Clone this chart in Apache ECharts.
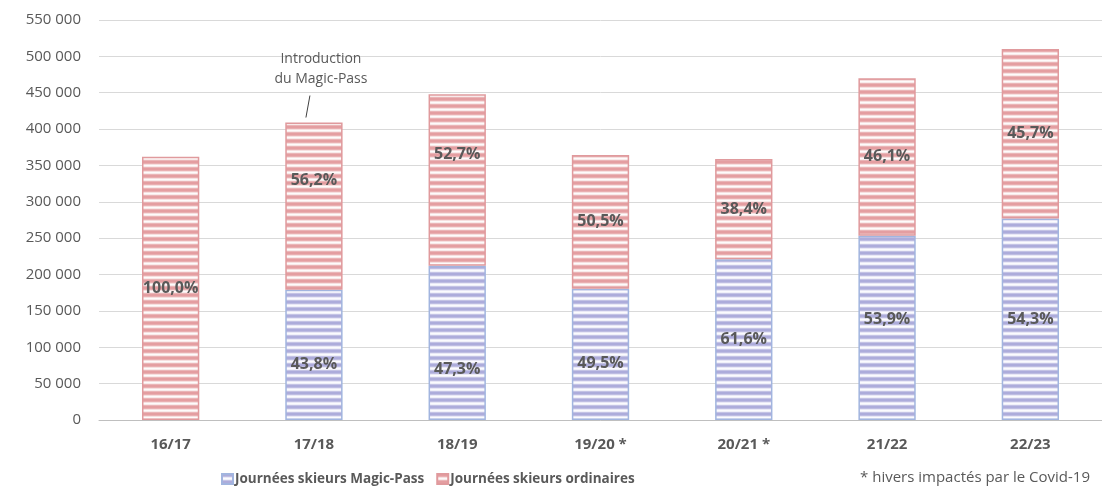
<!DOCTYPE html>
<html lang="fr">
<head>
    <meta charset="UTF-8">
    <title>Journées skieurs</title>
    <script src="https://cdn.jsdelivr.net/npm/echarts@6/dist/echarts.min.js"></script>
    <style>
        html, body { margin: 0; padding: 0; background: #fff; }
        #chart { width: 1102px; height: 489px; }
    </style>
</head>
<body>
<div id="chart"></div>
<script>
    // données
    var saisons = ['16/17', '17/18', '18/19', '19/20 *', '20/21 *', '21/22', '22/23'];
    var magicPass = [0, 179000, 212000, 180500, 221000, 253500, 277000];
    var ordinaires = [362000, 230000, 236000, 184000, 138000, 216500, 233000];
    var pctMagic = [null, '43,8%', '47,3%', '49,5%', '61,6%', '53,9%', '54,3%'];
    var pctOrdinaires = ['100,0%', '56,2%', '52,7%', '50,5%', '38,4%', '46,1%', '45,7%'];

    // décalage manuel de quelques étiquettes (comme dans le graphique d'origine)
    var nudgeMagic = { 1: 10, 2: 27, 3: 9, 5: -8 };
    var nudgeOrd = { 1: -26, 2: -26 };

    var grey = '#595959';
    var font = '"Open Sans", "Noto Sans", sans-serif';

    // motif de rayures horizontales
    function stripes(rows) {
        var cv = document.createElement('canvas');
        cv.width = 4;
        cv.height = rows.length;
        var ctx = cv.getContext('2d');
        rows.forEach(function (c, i) {
            ctx.fillStyle = c;
            ctx.fillRect(0, i, 4, 1);
        });
        return cv;
    }
    var redPattern = stripes(['#e49ea1', '#e49ea1', '#e9afb1', '#f6e0e0', '#fefbfb', '#f8eaea', '#eab5b7']);
    var bluePattern = stripes(['#adacdb', '#adacdb', '#bebde2', '#e9e8f6', '#fbfbfe', '#f0f0f9', '#c4c3e5']);

    function fmt(v) {
        return String(v).replace(/\B(?=(\d{3})+(?!\d))/g, ' ');
    }

    // 0 -> pas de segment dessiné
    function items(values, nudge) {
        return values.map(function (v, i) {
            var it = { value: v === 0 ? '-' : v };
            if (nudge[i]) it.label = { offset: [0, nudge[i]] };
            return it;
        });
    }

    var labelStyle = {
        show: true,
        position: 'inside',
        color: grey,
        fontFamily: font,
        fontWeight: 'bold',
        fontSize: 16
    };

    var myChart = echarts.init(document.getElementById('chart'));
    myChart.setOption({
        animation: false,
        textStyle: { fontFamily: font },
        grid: { left: 99, right: -10, top: 20, bottom: 69, containLabel: false },
        legend: {
            left: 216,
            top: 467,
            icon: 'rect',
            itemWidth: 11,
            itemHeight: 10,
            itemGap: 12,
            textStyle: { color: grey, fontSize: 13.5, fontWeight: 'bold', fontFamily: font, padding: [0, 0, 0, -3] },
            data: ['Journées skieurs Magic-Pass', 'Journées skieurs ordinaires']
        },
        xAxis: {
            type: 'category',
            data: saisons,
            axisTick: { show: false },
            axisLine: { lineStyle: { color: '#bfbfbf', width: 1 } },
            axisLabel: { color: grey, fontWeight: 'bold', fontSize: 15, margin: 17, fontFamily: font }
        },
        yAxis: {
            type: 'value',
            min: 0,
            max: 550000,
            interval: 50000,
            axisLine: { show: false },
            axisTick: { show: false },
            splitLine: { lineStyle: { color: '#d9d9d9' } },
            axisLabel: { color: grey, fontSize: 15, margin: 18, fontFamily: font, formatter: fmt }
        },
        series: [
            {
                name: 'Journées skieurs Magic-Pass',
                type: 'bar',
                stack: 'total',
                barWidth: '40%',
                data: items(magicPass, nudgeMagic),
                itemStyle: { color: { image: bluePattern, repeat: 'repeat' }, borderColor: '#a2b5df', borderWidth: 1.5 },
                label: Object.assign({}, labelStyle, {
                    formatter: function (p) { return pctMagic[p.dataIndex] || ''; }
                })
            },
            {
                name: 'Journées skieurs ordinaires',
                type: 'bar',
                stack: 'total',
                barWidth: '40%',
                data: items(ordinaires, nudgeOrd),
                itemStyle: { color: { image: redPattern, repeat: 'repeat' }, borderColor: '#e09a9d', borderWidth: 1.5 },
                label: Object.assign({}, labelStyle, {
                    formatter: function (p) { return pctOrdinaires[p.dataIndex] || ''; }
                })
            }
        ]
    });

    // annotation "Introduction du Magic-Pass" au-dessus de 17/18
    var top1718 = myChart.convertToPixel({ gridIndex: 0 }, [1, magicPass[1] + ordinaires[1]]);
    myChart.setOption({
        graphic: [
            {
                type: 'text',
                x: top1718[0] + 7,
                y: top1718[1] - 74,
                style: {
                    text: 'Introduction\ndu Magic-Pass',
                    fill: grey,
                    font: '14px ' + font,
                    align: 'center',
                    lineHeight: 20
                }
            },
            {
                type: 'line',
                shape: { x1: top1718[0] - 8, y1: top1718[1] - 5, x2: top1718[0] - 4, y2: top1718[1] - 27 },
                style: { stroke: '#404040', lineWidth: 1 }
            },
            {
                type: 'text',
                right: 12,
                top: 470,
                style: { text: '* hivers impactés par le Covid-19', fill: grey, font: '15px ' + font }
            }
        ]
    });
</script>
</body>
</html>
